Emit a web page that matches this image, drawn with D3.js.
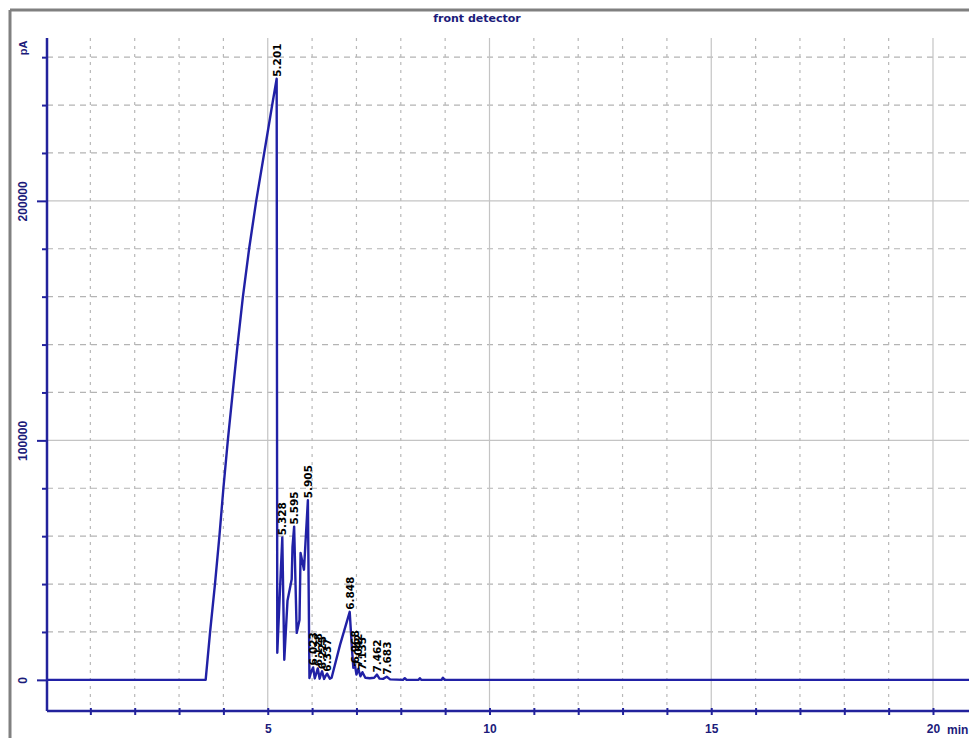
<!DOCTYPE html>
<html>
<head>
<meta charset="utf-8">
<script src="https://cdn.jsdelivr.net/npm/d3@7/dist/d3.min.js"></script>
<style>
  html, body { margin: 0; padding: 0; background: #fff; }
  svg { display: block; }
</style>
</head>
<body>
<div id="chart"></div>
<script>
// Chromatogram trace: retention time (min) and detector signal (pA)
const traceTime = [
  0, 3.60, 3.70, 3.81, 3.91, 4.00, 4.10, 4.21, 4.32, 4.44, 4.58, 4.74, 4.92, 5.10,
  5.201, 5.215, 5.265, 5.328, 5.373, 5.445, 5.54, 5.558, 5.595, 5.653, 5.716, 5.74,
  5.817, 5.85, 5.905, 5.94, 5.98, 6.023, 6.06, 6.10, 6.128, 6.17, 6.20, 6.225, 6.27,
  6.31, 6.337, 6.40, 6.44, 6.63, 6.848, 6.90, 6.93, 6.968, 7.00, 7.042, 7.09, 7.135,
  7.20, 7.30, 7.40, 7.462, 7.52, 7.60, 7.683, 7.76, 8.05, 8.09, 8.13, 8.40, 8.43,
  8.46, 8.92, 8.95, 8.99, 21.5
];
const traceSignal = [
  0, 0, 20000, 40000, 60000, 80000, 100000, 120000, 140000, 160000, 180000, 200000, 220000, 240000,
  251000, 11300, 33000, 59500, 8400, 33000, 42000, 55500, 64000, 19600, 25000, 53000,
  46000, 57000, 75000, 800, 3500, 5200, 600, 3000, 4800, 500, 2500, 3600, 400,
  1800, 2600, 500, 900, 14600, 28400, 12500, 5000, 6000, 2200, 4600, 1500, 3200,
  900, 700, 900, 2200, 500, 400, 1300, 200, 0, 700, 0, 0, 700,
  0, 0, 900, 0, 0
];

// Integrated peaks: retention times printed above each apex
const peakTimes = [5.201, 5.328, 5.595, 5.905, 6.023, 6.128, 6.225, 6.337,
                   6.848, 6.968, 7.042, 7.135, 7.462, 7.683];
const peakLabels = ["5.201", "5.328", "5.595", "5.905", "6.023", "6.128", "6.225", "6.337",
                    "6.848", "6.968", "7.042", "7.135", "7.462", "7.683"];

// Axis ticks
const xTicks = d3.range(0, 22, 1);
const xLabelTicks = [5, 10, 15, 20];
const yTicks = d3.range(0, 280000, 20000);
const yLabelTicks = [0, 100000, 200000];

const W = 969, H = 738;
const svg = d3.select("#chart").append("svg").attr("width", W).attr("height", H);

const x = d3.scaleLinear().domain([0, 21.5]).range([46, 46 + 21.5 * 44.35]);
const y = d3.scaleLinear().domain([-13000, 268000]).range([711, 38]);

const blue = "#22229c";
const textBlue = "#1b1b7a";
const x0 = x(0) + 1;
const sans = "Liberation Sans, Arial, sans-serif";
const wide = "DejaVu Sans, Verdana, sans-serif";

// outer frame
svg.append("line").attr("x1", 10).attr("x2", W).attr("y1", 10).attr("y2", 10)
  .attr("stroke", "#808080").attr("stroke-width", 3);
svg.append("line").attr("x1", 10).attr("x2", 10).attr("y1", 10).attr("y2", H)
  .attr("stroke", "#808080").attr("stroke-width", 3);

// title
svg.append("text").attr("x", 477).attr("y", 22).attr("text-anchor", "middle")
  .attr("font-family", wide).attr("font-size", 11)
  .attr("font-weight", "bold").attr("fill", textBlue).text("front detector");

// grid
const grid = svg.append("g");
yTicks.filter(v => v > 0).forEach(v => {
  const major = yLabelTicks.includes(v);
  grid.append("line").attr("x1", x0).attr("x2", W).attr("y1", y(v)).attr("y2", y(v))
    .attr("stroke", major ? "#c4c4c4" : "#b4b4b4")
    .attr("stroke-width", 1.2)
    .attr("stroke-dasharray", major ? null : "6,5");
});
xTicks.filter(t => t > 0).forEach(t => {
  const major = xLabelTicks.includes(t);
  grid.append("line").attr("x1", x(t)).attr("x2", x(t)).attr("y1", y.range()[1]).attr("y2", y.range()[0])
    .attr("stroke", major ? "#c4c4c4" : "#b8b8b8")
    .attr("stroke-width", 1.2)
    .attr("stroke-dasharray", major ? null : "3,5");
});

// x axis
const xAxis = d3.axisBottom(x).tickValues(xTicks).tickSizeInner(4).tickSizeOuter(0)
  .tickFormat(d => xLabelTicks.includes(d) ? d : "");
const gx = svg.append("g").attr("transform", `translate(0,${y.range()[0]})`).call(xAxis);
gx.select(".domain").remove();
gx.selectAll(".tick line").attr("stroke", blue).attr("stroke-width", 2).attr("y1", -3).attr("y2", 4);
gx.selectAll(".tick").filter(d => d === 0).remove();
gx.selectAll(".tick text").attr("y", 13).attr("dy", "0.71em")
  .attr("font-family", sans).attr("font-size", 12)
  .attr("font-weight", "bold").attr("fill", textBlue);
svg.append("text").attr("x", x(20) + 14).attr("y", y.range()[0] + 23)
  .attr("font-family", sans).attr("font-size", 12)
  .attr("font-weight", "bold").attr("fill", textBlue).text("min");
svg.append("line").attr("x1", x0).attr("x2", W).attr("y1", y.range()[0]).attr("y2", y.range()[0])
  .attr("stroke", blue).attr("stroke-width", 2.5);

// y axis
const yAxis = d3.axisLeft(y).tickValues(yTicks).tickSizeOuter(0)
  .tickFormat(d => yLabelTicks.includes(d) ? d : "");
const gy = svg.append("g").attr("transform", `translate(${x0},0)`).call(yAxis);
gy.select(".domain").remove();
gy.selectAll(".tick line").attr("stroke", blue).attr("stroke-width", 2)
  .attr("x2", d => yLabelTicks.includes(d) ? -10 : -5);
gy.selectAll(".tick text")
  .attr("x", 0).attr("dy", null)
  .attr("transform", "translate(-24,0) rotate(-90)")
  .attr("text-anchor", "middle").attr("dominant-baseline", "central")
  .attr("font-family", sans).attr("font-size", 12)
  .attr("font-weight", "bold").attr("fill", textBlue);
svg.append("line").attr("x1", x0).attr("x2", x0).attr("y1", y.range()[1]).attr("y2", y.range()[0])
  .attr("stroke", blue).attr("stroke-width", 2.5);
svg.append("text").attr("transform", `translate(23,${y.range()[1] + 10}) rotate(-90)`)
  .attr("text-anchor", "middle").attr("dominant-baseline", "central")
  .attr("font-family", sans).attr("font-size", 11)
  .attr("font-weight", "bold").attr("fill", textBlue).text("pA");

// trace
const points = traceTime.map((t, i) => [t, traceSignal[i]]);
const line = d3.line().x(d => x(d[0])).y(d => y(d[1]));
svg.append("path").datum(points).attr("d", line)
  .attr("fill", "none").attr("stroke", "#2121a6").attr("stroke-width", 2.4)
  .attr("stroke-linejoin", "round");

// peak retention-time labels
const signalAt = t => traceSignal[traceTime.indexOf(t)];
peakTimes.forEach((t, i) => {
  const px = x(t), py = y(signalAt(t)) - 2;
  svg.append("text")
    .attr("transform", `translate(${px},${py}) rotate(-90)`)
    .attr("text-anchor", "start").attr("dominant-baseline", "central")
    .attr("font-family", wide).attr("font-size", 10.5)
    .attr("font-weight", "bold").attr("fill", "#000").text(peakLabels[i]);
});
</script>
</body>
</html>
